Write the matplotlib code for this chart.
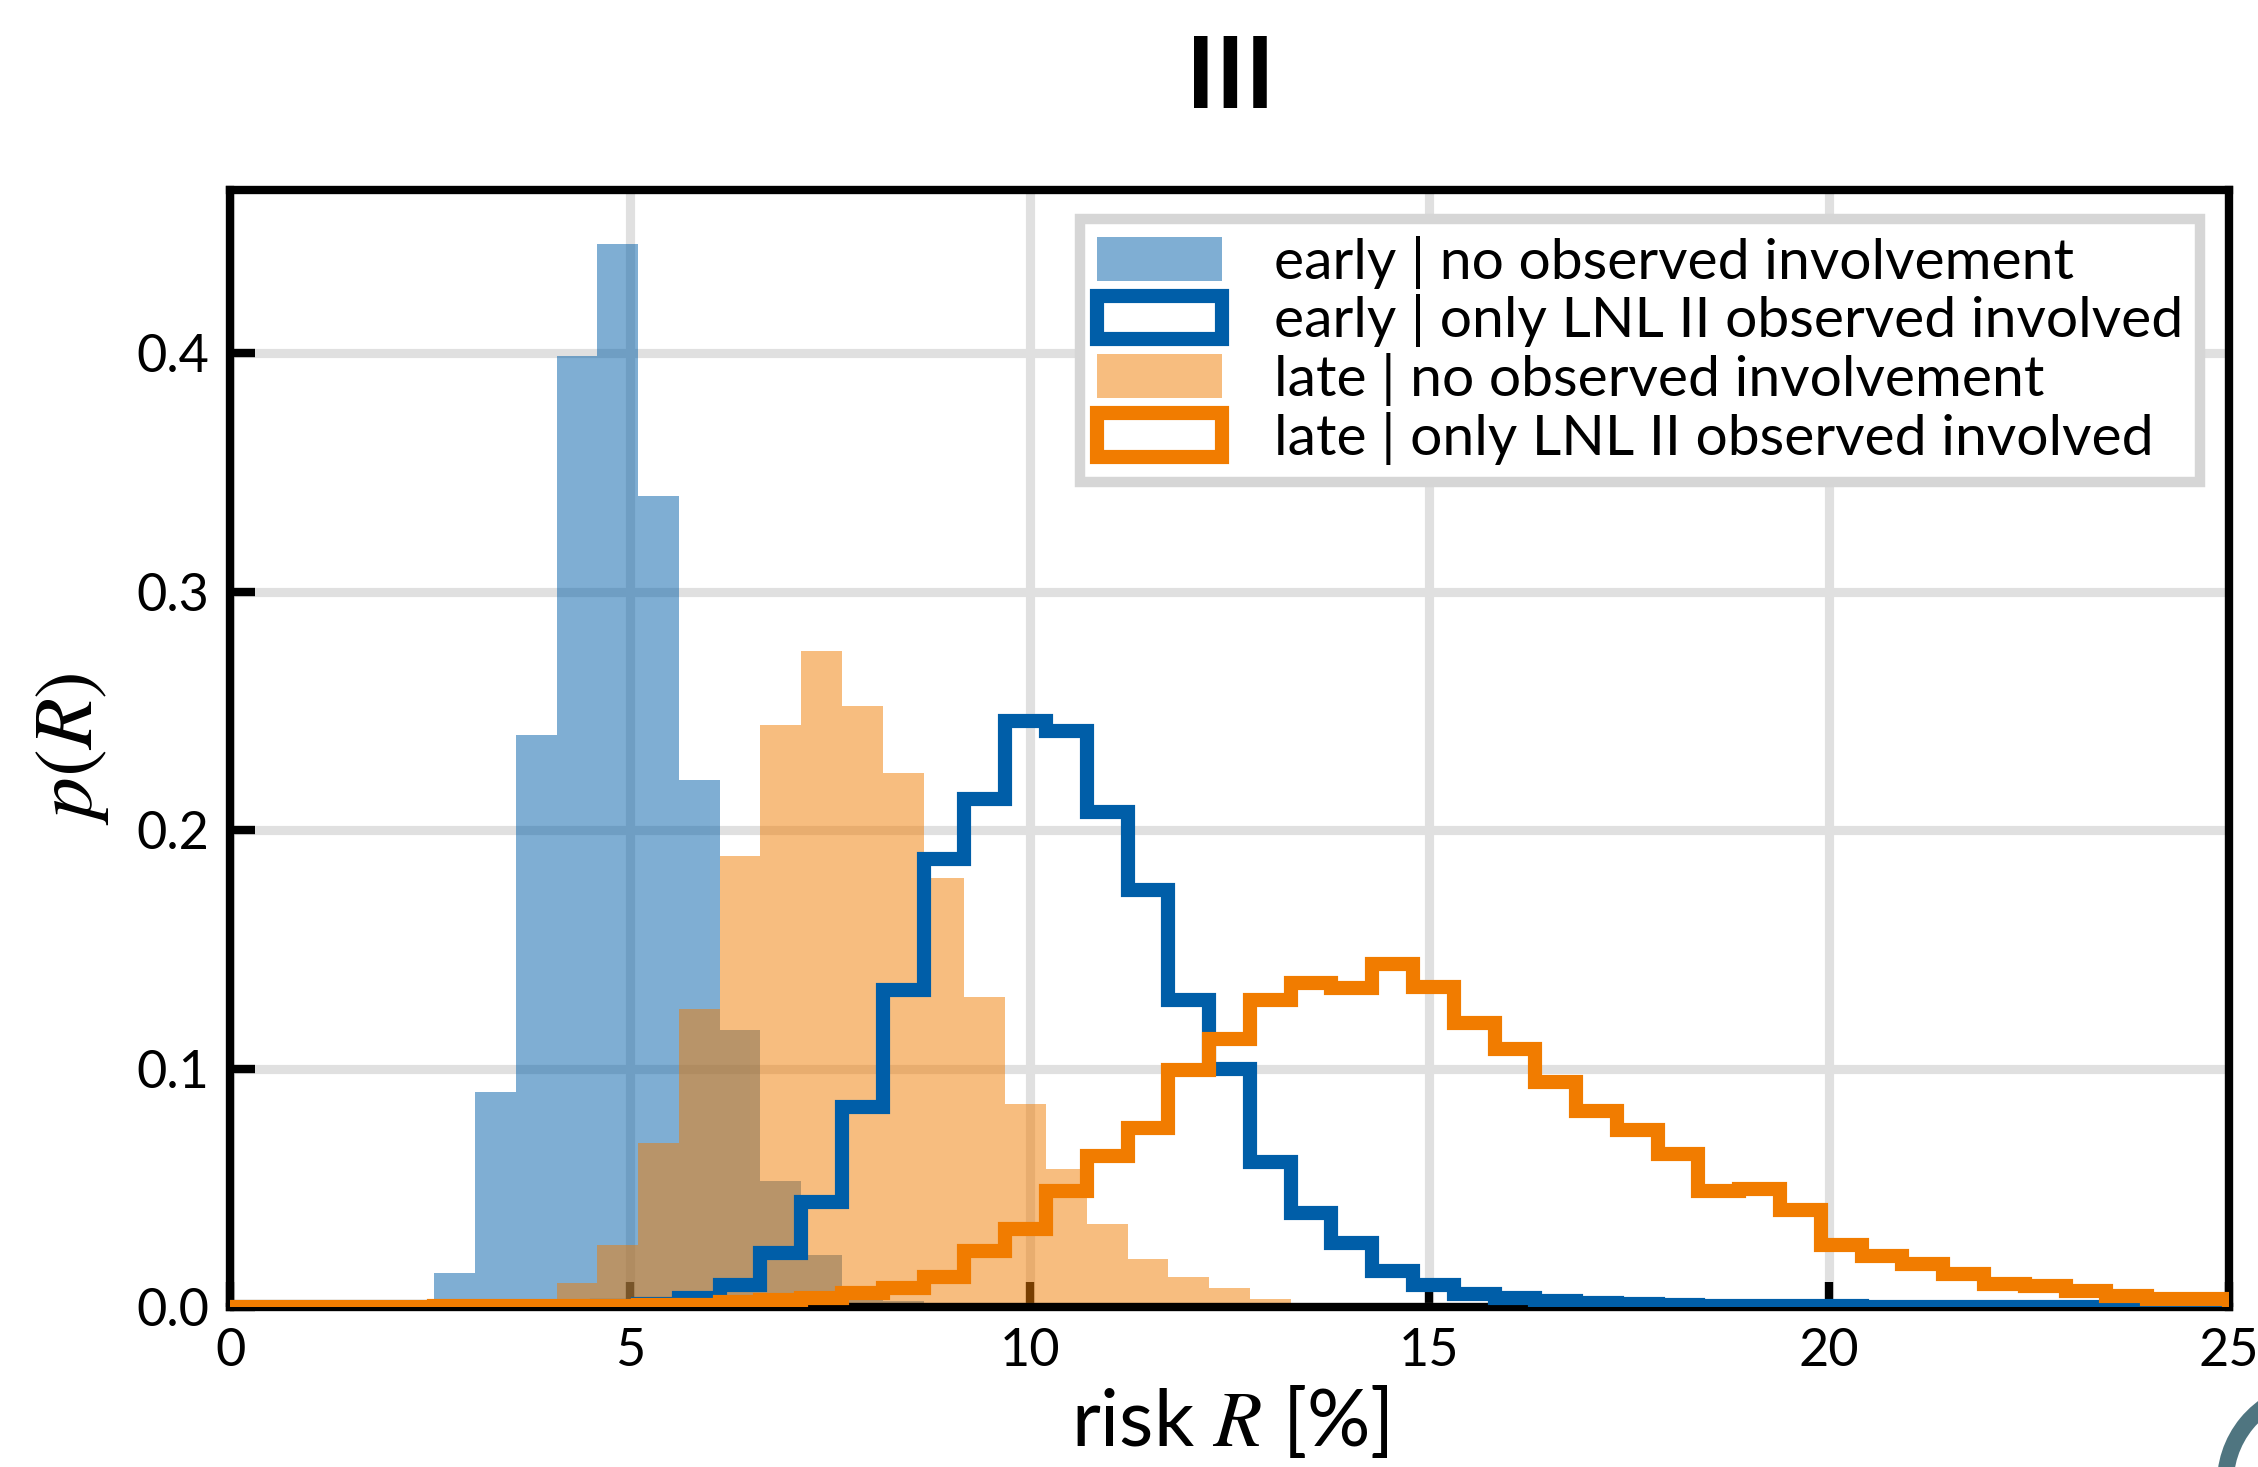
import matplotlib

matplotlib.use("Agg")

import matplotlib.pyplot as plt
import numpy as np
from matplotlib.patches import Arc, Patch

# risk histograms, 49 bins between 0 and 25 %
edges = np.linspace(0.0, 25.0, 50)

early_no = [
    0, 0, 0, 0, 0.0005, 0.0144, 0.090, 0.240, 0.399, 0.446,
    0.340, 0.221, 0.116, 0.053, 0.022, 0.0085, 0.0027, 0.0012, 0.0005, 0,
    0, 0, 0, 0, 0, 0, 0, 0, 0, 0,
    0, 0, 0, 0, 0, 0, 0, 0, 0, 0,
    0, 0, 0, 0, 0, 0, 0, 0, 0,
]
late_no = [
    0, 0, 0, 0, 0, 0, 0.0005, 0.002, 0.010, 0.026,
    0.069, 0.125, 0.189, 0.244, 0.275, 0.252, 0.224, 0.180, 0.130, 0.085,
    0.058, 0.035, 0.020, 0.0128, 0.008, 0.0034, 0.0018, 0.0008, 0.0004, 0,
    0, 0, 0, 0, 0, 0, 0, 0, 0, 0,
    0, 0, 0, 0, 0, 0, 0, 0, 0,
]
early_inv = [
    0, 0, 0, 0, 0, 0, 0, 0, 0, 0.0005,
    0.0015, 0.004, 0.0093, 0.0225, 0.044, 0.084, 0.133, 0.188, 0.213, 0.2457,
    0.2414, 0.2077, 0.1751, 0.129, 0.0997, 0.0608, 0.0393, 0.027, 0.0153, 0.0093,
    0.0055, 0.0040, 0.0025, 0.0018, 0.0012, 0.0008, 0.0006, 0.0005, 0.0003, 0.0003,
    0.0002, 0.0002, 0.0002, 0.0001, 0.0001, 0.0001, 0, 0, 0,
]
late_inv = [
    0, 0, 0, 0, 0, 0.0003, 0.0003, 0.0003, 0.0003, 0.0003,
    0.0007, 0.001, 0.002, 0.003, 0.004, 0.0058, 0.0080, 0.0127, 0.0235, 0.0328,
    0.0486, 0.0634, 0.0752, 0.0995, 0.1126, 0.1286, 0.1358, 0.1340, 0.1437, 0.1343,
    0.1190, 0.1084, 0.0945, 0.0823, 0.0743, 0.0644, 0.0487, 0.0495, 0.0408, 0.0261,
    0.0215, 0.0180, 0.0140, 0.0097, 0.0088, 0.0069, 0.0045, 0.0035, 0.0035,
]

labels = [
    "early | no observed involvement",
    "early | only LNL II observed involved",
    "late | no observed involvement",
    "late | only LNL II observed involved",
]
xticks = [0, 5, 10, 15, 20, 25]
yticks = [0.0, 0.1, 0.2, 0.3, 0.4]

BLUE = "#005ea8"
ORANGE = "#f17c00"

plt.rcParams["font.family"] = ["Lato", "DejaVu Sans"]
plt.rcParams["mathtext.fontset"] = "stix"


def main() -> None:
    fig = plt.figure(figsize=(2258 / 300, 1467 / 300), dpi=300)
    ax = fig.add_axes([0.102, 0.109, 0.885, 0.7615])

    centers = 0.5 * (edges[:-1] + edges[1:])
    ax.hist(centers, bins=edges, weights=early_no, histtype="stepfilled",
            color=BLUE, alpha=0.5, zorder=2)
    ax.hist(centers, bins=edges, weights=late_no, histtype="stepfilled",
            color=ORANGE, alpha=0.5, zorder=2)
    ax.hist(centers, bins=edges, weights=early_inv, histtype="step",
            color=BLUE, linewidth=3.4, zorder=3)
    ax.hist(centers, bins=edges, weights=late_inv, histtype="step",
            color=ORANGE, linewidth=3.4, zorder=3)

    ax.set_xlim(0, 25)
    ax.set_ylim(0, 0.4685)
    ax.set_xticks(xticks)
    ax.set_yticks(yticks)
    ax.set_yticklabels([f"{t:.1f}" for t in yticks])
    ax.tick_params(direction="in", length=6, width=2, labelsize=12.5, pad=5)
    ax.grid(True, color="0.88", linewidth=2.2, zorder=0)
    ax.set_axisbelow(True)
    for sp in ax.spines.values():
        sp.set_linewidth(2)

    ax.set_xlabel("risk $R$ [%]", fontsize=19, labelpad=2)
    ax.set_ylabel("$p(R)$", fontsize=20, labelpad=6)
    fig.text(0.545, 0.946, "III", fontsize=24, fontweight="bold",
             ha="center", va="center")

    handles = [
        Patch(facecolor=BLUE, alpha=0.5, edgecolor="none"),
        Patch(facecolor="white", edgecolor=BLUE, linewidth=3.4),
        Patch(facecolor=ORANGE, alpha=0.5, edgecolor="none"),
        Patch(facecolor="white", edgecolor=ORANGE, linewidth=3.4),
    ]
    leg = ax.legend(handles, labels, loc="upper right", fontsize=13.7,
                    fancybox=False, framealpha=1.0, edgecolor="#d6d6d6",
                    labelspacing=0.1, handlelength=2.2, handleheight=0.8,
                    handletextpad=0.9, borderpad=0.3, borderaxespad=0.5)
    leg.get_frame().set_linewidth(2.5)

    # clipped logo fragment in the lower right corner
    fig.patches.append(Arc((1.027, -0.011), 0.083, 0.128, theta1=95, theta2=185,
                           transform=fig.transFigure, color="#4f7580",
                           linewidth=4))

    fig.savefig("out.png", dpi=300)
    plt.close(fig)


if __name__ == "__main__":
    main()
